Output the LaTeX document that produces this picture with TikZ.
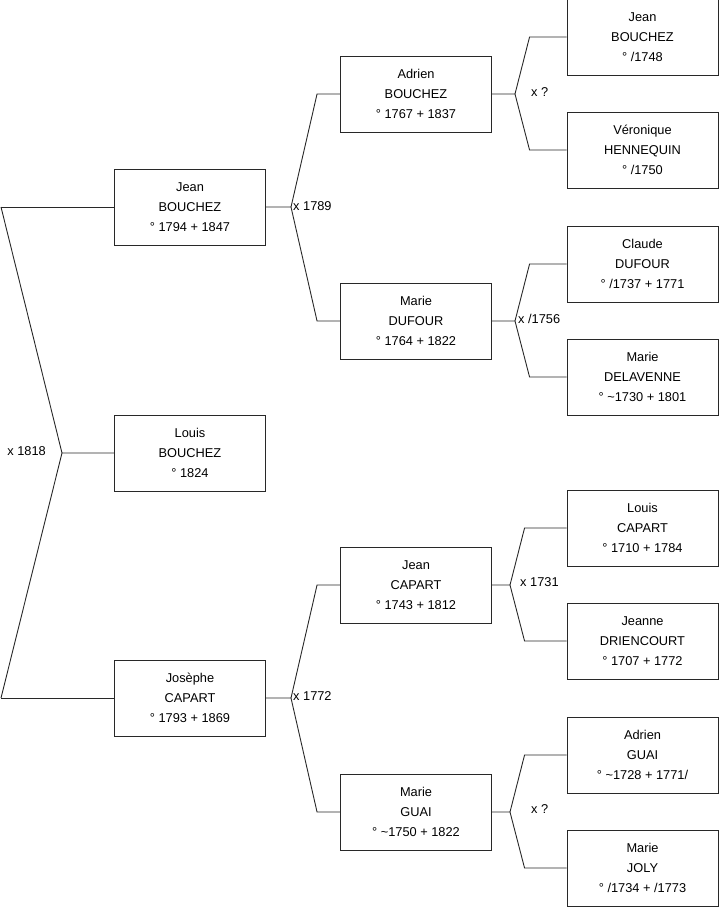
\documentclass[tikz,border=0pt]{standalone}
\usepackage{fontspec}
\setmainfont{Liberation Sans}
\usetikzlibrary{positioning, calc}
\definecolor{treeline}{RGB}{40, 40, 40}
\tikzstyle{person} = [rectangle, draw=treeline, line width=0.9pt, minimum width=151pt, minimum height=76pt,
                      align=center, inner sep=0pt, font=\fontsize{12.8}{20}\selectfont]
\tikzstyle{link} = [draw=treeline, line width=0.9pt]
\tikzstyle{wedding} = [inner sep=0pt, font=\fontsize{12.8}{14}\selectfont]

\begin{document}
\begin{tikzpicture}[x=1pt, y=-1pt]
\useasboundingbox (0,0) rectangle (719,908);

% Generation 1
\node[person] (jeanB) at (190, 207) {Jean\\BOUCHEZ\\° 1794 + 1847};
\node[person] (louisB) at (190, 453) {Louis\\BOUCHEZ\\° 1824};
\node[person] (josepheC) at (190, 698) {Josèphe\\CAPART\\° 1793 + 1869};

% Generation 2
\node[person] (adrienB) at (416, 94) {Adrien\\BOUCHEZ\\° 1767 + 1837};
\node[person] (marieD) at (416, 321) {Marie\\DUFOUR\\° 1764 + 1822};
\node[person] (jeanC) at (416, 585) {Jean\\CAPART\\° 1743 + 1812};
\node[person] (marieG) at (416, 812) {Marie\\GUAI\\° \char`~1750 + 1822};

% Generation 3
\node[person] (jeanB2) at (642.5, 37) {Jean\\BOUCHEZ\\° /1748};
\node[person] (veroniqueH) at (642.5, 150) {Véronique\\HENNEQUIN\\° /1750};
\node[person] (claudeD) at (642.5, 264) {Claude\\DUFOUR\\° /1737 + 1771};
\node[person] (marieDL) at (642.5, 377) {Marie\\DELAVENNE\\° \char`~1730 + 1801};
\node[person] (louisC) at (642.5, 528) {Louis\\CAPART\\° 1710 + 1784};
\node[person] (jeanneD) at (642.5, 641) {Jeanne\\DRIENCOURT\\° 1707 + 1772};
\node[person] (adrienG) at (642.5, 755) {Adrien\\GUAI\\° \char`~1728 + 1771/};
\node[person] (marieJ) at (642.5, 868) {Marie\\JOLY\\° /1734 + /1773};

% Junctions
\coordinate (top1818) at (1, 207);
\coordinate (bot1818) at (1, 698);
\coordinate (m1818) at (62, 453);
\coordinate (m1789) at (291, 207);
\coordinate (m1772) at (291, 698);
\coordinate (mAdrien) at (515, 94);
\coordinate (m1756) at (515, 321);
\coordinate (m1731) at (510, 585);
\coordinate (mMarie) at (510, 812);

% Links generation 1
\draw[link] (top1818) -- (jeanB.west);
\draw[link] (top1818) -- (m1818) -- (louisB.west);
\draw[link] (bot1818) -- (m1818);
\draw[link] (bot1818) -- (josepheC.west);

% Links generation 2
\draw[link] (jeanB.east) -- (m1789) -- ($(adrienB.west)+(-23,0)$) -- (adrienB.west);
\draw[link] (m1789) -- ($(marieD.west)+(-23,0)$) -- (marieD.west);
\draw[link] (josepheC.east) -- (m1772) -- ($(jeanC.west)+(-23,0)$) -- (jeanC.west);
\draw[link] (m1772) -- ($(marieG.west)+(-23,0)$) -- (marieG.west);

% Links generation 3
\draw[link] (adrienB.east) -- (mAdrien) -- ($(jeanB2.west)+(-37,0)$) -- (jeanB2.west);
\draw[link] (mAdrien) -- ($(veroniqueH.west)+(-37,0)$) -- (veroniqueH.west);
\draw[link] (marieD.east) -- (m1756) -- ($(claudeD.west)+(-37,0)$) -- (claudeD.west);
\draw[link] (m1756) -- ($(marieDL.west)+(-37,0)$) -- (marieDL.west);
\draw[link] (jeanC.east) -- (m1731) -- ($(louisC.west)+(-42,0)$) -- (louisC.west);
\draw[link] (m1731) -- ($(jeanneD.west)+(-42,0)$) -- (jeanneD.west);
\draw[link] (marieG.east) -- (mMarie) -- ($(adrienG.west)+(-42,0)$) -- (adrienG.west);
\draw[link] (mMarie) -- ($(marieJ.west)+(-42,0)$) -- (marieJ.west);

% Marriage labels
\node[wedding, anchor=east] (l1818) at (46, 451) {x 1818};
\node[wedding, anchor=west] (l1789) at (293, 206) {x 1789};
\node[wedding, anchor=west] (l1772) at (293, 696) {x 1772};
\node[wedding, anchor=west] (lAdrien) at (531, 92) {x ?};
\node[wedding, anchor=west] (l1756) at (518, 319) {x /1756};
\node[wedding, anchor=west] (l1731) at (520, 582) {x 1731};
\node[wedding, anchor=west] (lMarie) at (531, 809) {x ?};

\end{tikzpicture}
\end{document}
